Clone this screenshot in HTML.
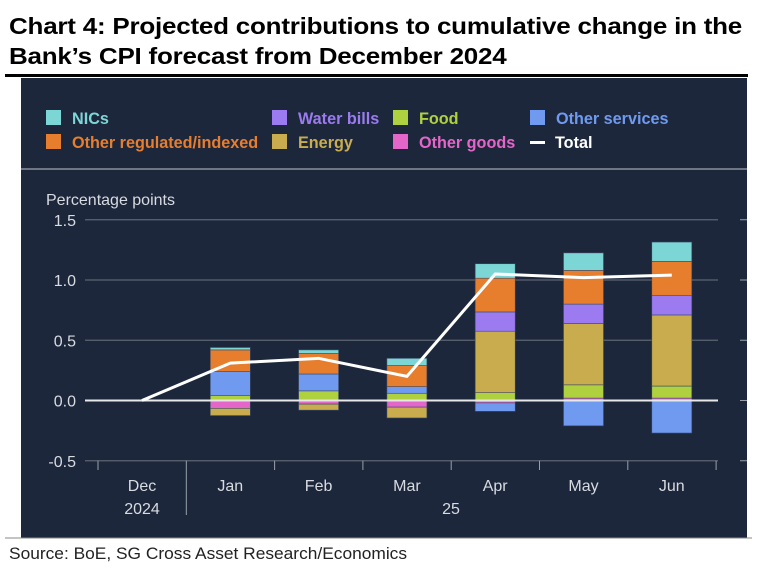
<!DOCTYPE html>
<html><head><meta charset="utf-8"><style>
body{margin:0;width:762px;height:568px;background:#fff;position:relative;overflow:hidden;font-family:"Liberation Sans",sans-serif}
.t{position:absolute;left:9px;font-weight:bold;font-size:23px;color:#000;line-height:30px;letter-spacing:-0.2px;transform:scaleX(1.13);transform-origin:0 0;white-space:nowrap}
</style></head><body>
<div class="t" style="top:11px">Chart 4: Projected contributions to cumulative change in the<br>Bank’s CPI forecast from December 2024</div>
<div style="position:absolute;left:5px;top:74px;width:743px;height:3px;background:#000"></div>
<svg id="c" width="762" height="568" style="position:absolute;left:0;top:0"></svg>
<div style="position:absolute;left:9px;top:544px;font-size:17px;color:#222;transform:scaleX(1.02);transform-origin:0 0">Source: BoE, SG Cross Asset Research/Economics</div>
<script>
const months=["Dec","Jan","Feb","Mar","Apr","May","Jun"];
const yTicks=[1.5,1.0,0.5,0.0,-0.5];
const nics=[0,0.02,0.03,0.06,0.12,0.145,0.16];
const otherReg=[0,0.18,0.17,0.175,0.28,0.28,0.285];
const water=[0,0,0,0,0.16,0.16,0.16];
const energy=[0,-0.06,-0.05,-0.09,0.51,0.51,0.59];
const food=[0,0.04,0.08,0.06,0.065,0.11,0.10];
const otherGoods=[0,-0.065,-0.03,-0.055,-0.02,0.02,0.02];
const otherServices=[0,0.20,0.14,0.055,-0.07,-0.21,-0.27];
const total=[0,0.31,0.35,0.2,1.05,1.02,1.04];
const NS="http://www.w3.org/2000/svg";
const svg=document.getElementById('c');
function el(t,a,p){const e=document.createElementNS(NS,t);for(const k in a)e.setAttribute(k,a[k]);(p||svg).appendChild(e);return e;}
const y=v=>400.5-v*120.5;
const x=i=>142+i*88.3;
const bg=el('rect',{x:21,y:78,width:726,height:460,fill:'#1d273c'});


const legend=[["NICs","#7dd6d6",46,118],["Other regulated/indexed","#e67e2e",46,142],["Water bills","#9b7bef",272,118],["Energy","#c8ac4d",272,142],["Food","#afd13f",393,118],["Other goods","#e466c8",393,142],["Other services","#6f9af0",530,118]];
legend.forEach(l=>{const g=el('g',{});


el('rect',{x:l[2],y:l[3]-8,width:15,height:15,fill:l[1]},g);
const t=el('text',{x:l[2]+26,y:l[3]+6,fill:l[1],'font-size':16.2,'font-weight':'bold','font-family':'Liberation Sans, sans-serif'},g);t.textContent=l[0];});
const lt=el('g',{});


el('rect',{x:530,y:141,width:15,height:3,fill:'#fff'},lt);
const tt=el('text',{x:555,y:148,fill:'#fff','font-size':16.2,'font-weight':'bold'},lt);tt.textContent="Total";
el('line',{x1:21,x2:747,y1:169,y2:169,stroke:'#8a909c','stroke-width':1.5});
const yl=el('text',{x:46,y:205,fill:'#d8dbe0','font-size':16});yl.textContent="Percentage points";


yTicks.forEach(v=>{
 const g=el('line',{x1:85,x2:718,y1:y(v),y2:y(v),stroke:v===0?'#e8e8e8':'#5d6470','stroke-width':v===0?2:1.2});
 
 
 const t=el('text',{x:76,y:y(v)+6,fill:'#d8dbe0','font-size':16,'text-anchor':'end'});t.textContent=v.toFixed(1);
 
 
 el('line',{x1:740,x2:747,y1:y(v),y2:y(v),stroke:'#9aa0aa','stroke-width':1});
});
for(let i=0;i<=7;i++){const xx=x(i)-44;el('line',{x1:xx,x2:xx,y1:y(-0.5),y2:i==1?515:470,stroke:'#9aa0aa','stroke-width':1});}
months.forEach((m,i)=>{const t=el('text',{x:x(i),y:491,fill:'#d8dbe0','font-size':16,'text-anchor':'middle'});t.textContent=m;
 
 });
const y1=el('text',{x:x(0),y:514,fill:'#d8dbe0','font-size':16,'text-anchor':'middle'});y1.textContent="2024";
const y2=el('text',{x:x(3.5),y:514,fill:'#d8dbe0','font-size':16,'text-anchor':'middle'});y2.textContent="25";
const series=[[otherGoods,"#e466c8","other-goods"],[food,"#afd13f","food"],[otherServices,"#6f9af0","other-services"],[energy,"#c8ac4d","energy"],[water,"#9b7bef","water-bills"],[otherReg,"#e67e2e","other-regulated"],[nics,"#7dd6d6","nics"]];
months.forEach((m,i)=>{let pos=0,neg=0;
 series.forEach(s=>{const v=s[0][i];if(!v)return;let a,b;
  if(v>0){a=pos;b=pos+v;pos=b;}else{a=neg;b=neg+v;neg=b;}
  const r=el('rect',{x:x(i)-20,width:40,y:Math.min(y(a),y(b)),height:Math.abs(y(a)-y(b)),fill:s[1],stroke:'#3a4a66','stroke-width':0.6});
  
  });
});
el('line',{x1:85,x2:718,y1:y(0),y2:y(0),stroke:'#e8e8e8','stroke-width':2});
const tl=el('polyline',{points:total.map((v,i)=>x(i)+','+y(v)).join(' '),fill:'none',stroke:'#fff','stroke-width':3});


el('line',{x1:5,x2:752,y1:538,y2:538,stroke:'#888','stroke-width':1});
</script>
</body></html>
